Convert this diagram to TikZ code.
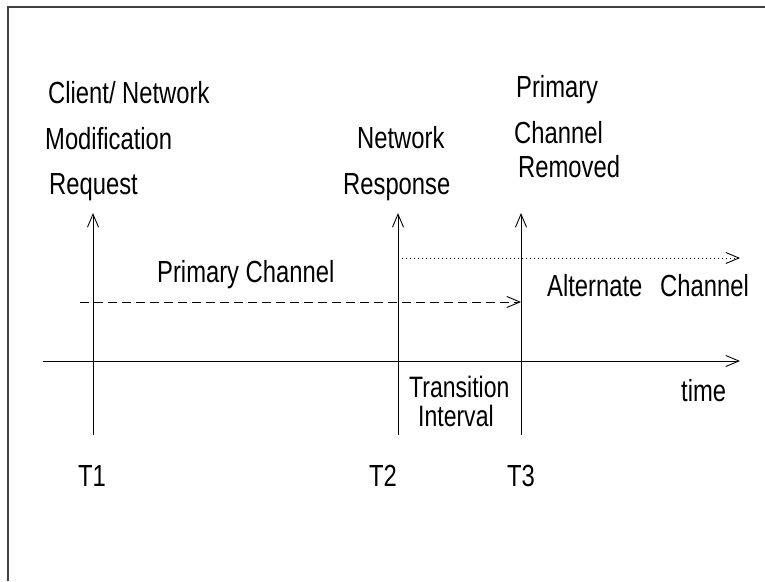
\documentclass[tikz,border=0pt]{standalone}
\usepackage{fontspec}
\setmainfont[FakeStretch=0.78]{Liberation Sans}
\usetikzlibrary{arrows.meta}
\begin{document}
\begin{tikzpicture}[x=1pt,y=-1pt,
  lbl/.style={anchor=base west,inner sep=0pt,font=\fontsize{30.5}{30.5}\selectfont},
  tight/.style={font=\fontsize{29.5}{29.5}\selectfont},
  arr/.style={line width=0.9pt,-{Straight Barb[length=13pt,width=11pt,line width=0.9pt]}},
  frame/.style={draw=black!75,line width=1.4pt}]
\useasboundingbox (0,0) rectangle (765,581);
% frame edges
\draw[frame] (8,581) -- (8,7) -- (766,7);

% anchor points of the lines
\coordinate (t1bot) at (93,435);   \coordinate (t1top) at (93,213);
\coordinate (t2bot) at (398,435);  \coordinate (t2top) at (398,213);
\coordinate (t3bot) at (521,435);  \coordinate (t3top) at (521,213);
\coordinate (axL) at (43,361);     \coordinate (axR) at (740,361);
\coordinate (priL) at (80,302);    \coordinate (priR) at (521,302);
\coordinate (altL) at (398,258);   \coordinate (altR) at (740,258);

% event markers
\draw[arr] (t1bot) -- (t1top);
\draw[arr] (t2bot) -- (t2top);
\draw[arr] (t3bot) -- (t3top);
% time axis
\draw[arr] (axL) -- (axR);
% channels
\draw[arr,dash pattern=on 9pt off 5pt] (priL) -- (priR);
\draw[arr,dash pattern=on 1.2pt off 2.8pt] (altL) -- (altR);

% labels
\node[lbl] (c1) at (48,103) {Client/ Network};
\node[lbl] (c2) at (45,149) {Modification};
\node[lbl] (c3) at (49,194) {Request};
\node[lbl] (n1) at (357,148) {Network};
\node[lbl] (n2) at (343,194) {Response};
\node[lbl] (p1) at (516,97) {Primary};
\node[lbl] (p2) at (514,143) {Channel};
\node[lbl] (p3) at (518,177) {Removed};
\node[lbl] (pc) at (157,282) {Primary Channel};
\node[lbl] (al) at (547,296) {Alternate};
\node[lbl] (ac) at (660,296) {Channel};
\node[lbl] (tm) at (681,401) {time};
\node[lbl,tight,text depth=0pt] (tr1) at (409,397) {Transition};
\node[lbl,tight] (tr2) at (418,426) {Interval};
\node[lbl] (T1) at (78,486) {T1};
\node[lbl] (T2) at (369,486) {T2};
\node[lbl] (T3) at (507,486) {T3};
\end{tikzpicture}
\end{document}
